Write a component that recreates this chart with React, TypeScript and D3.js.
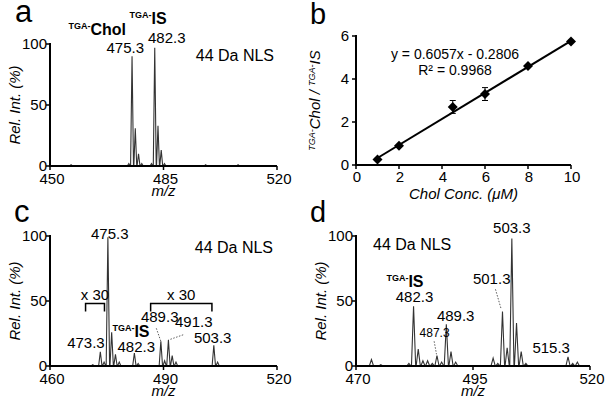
import React from "react";
import * as d3 from "d3";

// ---------- DATA ----------
// Panel a peaks: [m/z, rel. intensity %]
const peaksA: [number, number][] = [
  [456.5, 1], [474.3, 2], [475.3, 90], [476.3, 31], [477.3, 10], [478.3, 2],
  [481.3, 2], [482.3, 97], [483.3, 33], [484.3, 13], [485.3, 2],
  [498.0, 1], [508.0, 1],
];
// Panel c peaks
const peaksC: [number, number][] = [
  [471.3, 1], [473.3, 11], [474.3, 3], [475.3, 99], [476.3, 26], [477.3, 9], [478.3, 3],
  [482.3, 10], [483.3, 2], [489.3, 19], [490.3, 4], [491.3, 20], [492.3, 8], [493.3, 3],
  [503.3, 16], [504.3, 3],
];
// Panel d peaks
const peaksD: [number, number][] = [
  [473.3, 5], [475.3, 1], [481.3, 2], [482.3, 46], [483.3, 13], [484.3, 4], [485.3, 4], [486.3, 2],
  [487.3, 8], [488.3, 3], [489.3, 32], [490.3, 11], [491.3, 3],
  [499.3, 6], [500.3, 2], [501.3, 42], [502.3, 14], [503.3, 98], [504.3, 33], [505.3, 11], [506.3, 2],
  [515.3, 7], [516.3, 2], [517.3, 3],
];
// Panel b calibration
const concB = [1, 2, 4.5, 6, 8, 10];
const ratioB = [0.26, 0.9, 2.7, 3.3, 4.6, 5.75];
const errB = [0.05, 0.05, 0.3, 0.3, 0.05, 0.05];
const slopeB = 0.6057;
const interceptB = -0.2806;
const xTicksB = [0, 2, 4, 6, 8, 10];
const yTicksB = [0, 2, 4, 6];
const yTicksSpec = [0, 50, 100];
const xTicksA = [450, 485, 520];
const xTicksC = [460, 490, 520];
const xTicksD = [470, 495, 520];

const FONT = "'Liberation Sans', Arial, Helvetica, sans-serif";
const PEAK_HALF_WIDTH = 0.45;

function spectrumPath(peaks: [number, number][], x: d3.ScaleLinear<number, number>, y: d3.ScaleLinear<number, number>) {
  const [d0, d1] = x.domain();
  const pts: [number, number][] = [[d0, 0]];
  [...peaks].sort((a, b) => a[0] - b[0]).forEach(([m, h]) => {
    pts.push([m - PEAK_HALF_WIDTH, 0], [m, h], [m + PEAK_HALF_WIDTH, 0]);
  });
  pts.push([d1, 0]);
  const line = d3.line<[number, number]>().x((d) => x(d[0])).y((d) => y(d[1]));
  return line(pts) || "";
}

function SpecAxes({ x, y, xticks }: { x: d3.ScaleLinear<number, number>; y: d3.ScaleLinear<number, number>; xticks: number[] }) {
  const [r0, r1] = x.range();
  const y0 = y(0);
  const yTop = y(100);
  return (
    <g>
      <line x1={r0} x2={r0} y1={yTop - 1} y2={y0 + 1} stroke="#000" strokeWidth={2} />
      <line x1={r0 - 1} x2={r1} y1={y0} y2={y0} stroke="#000" strokeWidth={2} />
      {yTicksSpec.map((t) => (
        <g key={"y" + t}>
          <line x1={r0 - 4} x2={r0} y1={y(t)} y2={y(t)} stroke="#000" strokeWidth={1.5} />
          <text x={r0 - 3} y={y(t) + 5} textAnchor="end" fontSize={15}>{t}</text>
        </g>
      ))}
      {xticks.map((t) => (
        <g key={"x" + t}>
          <line x1={x(t)} x2={x(t)} y1={y0} y2={y0 + 4} stroke="#000" strokeWidth={1.5} />
          <text x={x(t) + 2} y={y0 + 18} textAnchor="middle" fontSize={15}>{t}</text>
        </g>
      ))}
      <text x={(r0 + r1) / 2} y={y0 + 30} textAnchor="middle" fontSize={15} fontStyle="italic">m/z</text>
      <text transform={`translate(${r0 - 30},${(y0 + yTop) / 2}) rotate(-90)`} textAnchor="middle" fontSize={15} fontStyle="italic">Rel. Int. (%)</text>
    </g>
  );
}

export default function App() {
  // Panel a
  const xA = d3.scaleLinear().domain([450, 520]).range([50, 277]);
  const yA = d3.scaleLinear().domain([0, 100]).range([166, 44]);
  // Panel c
  const xC = d3.scaleLinear().domain([460, 520]).range([50, 277]);
  const yC = d3.scaleLinear().domain([0, 100]).range([366, 236]);
  // Panel d
  const xD = d3.scaleLinear().domain([470, 520]).range([356, 590]);
  const yD = d3.scaleLinear().domain([0, 100]).range([366, 236]);
  // Panel b
  const xB = d3.scaleLinear().domain([0, 10]).range([356, 571]);
  const yB = d3.scaleLinear().domain([0, 6]).range([165, 36]);

  const fitX = [concB[0], concB[concB.length - 1]];
  const diamond = (cx: number, cy: number, r: number) => `M${cx},${cy - r}L${cx + r},${cy}L${cx},${cy + r}L${cx - r},${cy}Z`;

  const sub = (label: string, main: string, x: number, y: number, anchor: "start" | "middle" = "start") => (
    <text x={x} y={y} fontWeight="bold" textAnchor={anchor}>
      <tspan fontSize={9} dy={-6}>{label}</tspan>
      <tspan fontSize={16} dy={6}>{main}</tspan>
    </text>
  );

  return (
    <svg width={607} height={406} style={{ position: "absolute", left: 0, top: 0, background: "#fff", fontFamily: FONT }}>
      <rect width={607} height={406} fill="#fff" />
      {/* panel letters */}
      <text x={15} y={22} fontSize={31}>a</text>
      <text x={310} y={24} fontSize={29}>b</text>
      <text x={14} y={222} fontSize={31}>c</text>
      <text x={310} y={222} fontSize={29}>d</text>

      {/* ---------- Panel a ---------- */}
      <path d={spectrumPath(peaksA, xA, yA)} fill="none" stroke="#333" strokeWidth={1.1} />
      <SpecAxes x={xA} y={yA} xticks={xTicksA} />
      <text x={274} y={61} textAnchor="end" fontSize={16}>44 Da NLS</text>
      {sub("TGA-", "Chol", xA(455.7), yA(107))}
      {sub("TGA-", "IS", xA(474.5), yA(116))}
      <text x={xA(473.2)} y={yA(93)} textAnchor="middle" fontSize={15}>475.3</text>
      <text x={xA(486)} y={yA(101)} textAnchor="middle" fontSize={15}>482.3</text>

      {/* ---------- Panel b ---------- */}
      <line x1={xB(0)} x2={xB(0)} y1={yB(6) - 1} y2={yB(0) + 1} stroke="#000" strokeWidth={2} />
      <line x1={xB(0) - 1} x2={xB(10)} y1={yB(0)} y2={yB(0)} stroke="#000" strokeWidth={2} />
      {yTicksB.map((t) => (
        <g key={"by" + t}>
          <line x1={xB(0) - 4} x2={xB(0)} y1={yB(t)} y2={yB(t)} stroke="#000" strokeWidth={1.5} />
          <text x={xB(0) - 7} y={yB(t) + 5} textAnchor="end" fontSize={15}>{t}</text>
        </g>
      ))}
      {xTicksB.map((t) => (
        <g key={"bx" + t}>
          <line x1={xB(t)} x2={xB(t)} y1={yB(0)} y2={yB(0) + 4} stroke="#000" strokeWidth={1.5} />
          <text x={xB(t) + 1} y={yB(0) + 17} textAnchor="middle" fontSize={15}>{t}</text>
        </g>
      ))}
      <line x1={xB(fitX[0])} y1={yB(slopeB * fitX[0] + interceptB)} x2={xB(fitX[1])} y2={yB(slopeB * fitX[1] + interceptB)} stroke="#000" strokeWidth={2} />
      {concB.map((c, i) => (
        <g key={"pt" + i}>
          <line x1={xB(c)} x2={xB(c)} y1={yB(ratioB[i] - errB[i])} y2={yB(ratioB[i] + errB[i])} stroke="#000" strokeWidth={1} />
          <line x1={xB(c) - 3} x2={xB(c) + 3} y1={yB(ratioB[i] + errB[i])} y2={yB(ratioB[i] + errB[i])} stroke="#000" strokeWidth={1} />
          <line x1={xB(c) - 3} x2={xB(c) + 3} y1={yB(ratioB[i] - errB[i])} y2={yB(ratioB[i] - errB[i])} stroke="#000" strokeWidth={1} />
          <path d={diamond(xB(c), yB(ratioB[i]), 5)} fill="#000" />
        </g>
      ))}
      <text x={455} y={59} textAnchor="middle" fontSize={14}>y = 0.6057x - 0.2806</text>
      <text x={455} y={75} textAnchor="middle" fontSize={14}>R² = 0.9968</text>
      <text x={(xB(0) + xB(10)) / 2} y={199} textAnchor="middle" fontSize={15} fontStyle="italic">Chol Conc. (μM)</text>
      <text transform={`translate(${320},${(yB(0) + yB(6)) / 2}) rotate(-90)`} textAnchor="middle" fontStyle="italic">
        <tspan fontSize={9} dy={-5}>TGA-</tspan>
        <tspan fontSize={15} dy={5}>Chol / </tspan>
        <tspan fontSize={9} dy={-5}>TGA-</tspan>
        <tspan fontSize={15} dy={5}>IS</tspan>
      </text>

      {/* ---------- Panel c ---------- */}
      <path d={spectrumPath(peaksC, xC, yC)} fill="none" stroke="#333" strokeWidth={1.1} />
      <SpecAxes x={xC} y={yC} xticks={xTicksC} />
      <text x={273} y={253} textAnchor="end" fontSize={16}>44 Da NLS</text>
      <text x={xC(475.8)} y={yC(98)} textAnchor="middle" fontSize={15}>475.3</text>
      <text x={xC(469.5)} y={yC(14)} textAnchor="middle" fontSize={15}>473.3</text>
      {sub("TGA-", "IS", xC(476.5), yC(22))}
      <text x={xC(482.8)} y={yC(11)} textAnchor="middle" fontSize={15}>482.3</text>
      <text x={xC(489)} y={yC(34)} textAnchor="middle" fontSize={15}>489.3</text>
      <text x={xC(498)} y={yC(30)} textAnchor="middle" fontSize={15}>491.3</text>
      <text x={xC(503)} y={yC(18)} textAnchor="middle" fontSize={15}>503.3</text>
      <line x1={xC(488.1)} y1={yC(29)} x2={xC(489.3)} y2={yC(19)} stroke="#333" strokeWidth={0.8} strokeDasharray="1.5,1.5" />
      <line x1={xC(495.2)} y1={yC(24)} x2={xC(491.3)} y2={yC(20)} stroke="#333" strokeWidth={0.8} strokeDasharray="1.5,1.5" />
      {/* x30 brackets */}
      {[[469.4, 474.4], [486.6, 502.8]].map(([a, b], i) => (
        <g key={"br" + i}>
          <path d={`M${xC(a)},${yC(42)}V${yC(48)}H${xC(b)}V${yC(42)}`} fill="none" stroke="#000" strokeWidth={1.5} />
          <text x={(xC(a) + xC(b)) / 2} y={yC(51)} textAnchor="middle" fontSize={15}>x 30</text>
        </g>
      ))}

      {/* ---------- Panel d ---------- */}
      <path d={spectrumPath(peaksD, xD, yD)} fill="none" stroke="#333" strokeWidth={1.1} />
      <SpecAxes x={xD} y={yD} xticks={xTicksD} />
      <text x={373} y={250} fontSize={16}>44 Da NLS</text>
      <text x={xD(503.3)} y={yD(102)} textAnchor="middle" fontSize={15}>503.3</text>
      <text x={xD(499)} y={yD(63)} textAnchor="middle" fontSize={15}>501.3</text>
      <line x1={xD(499.8)} y1={yD(59)} x2={xD(501)} y2={yD(44)} stroke="#333" strokeWidth={0.8} strokeDasharray="1.5,1.5" />
      {sub("TGA-", "IS", xD(476.5), yD(61))}
      <text x={xD(482.5)} y={yD(49)} textAnchor="middle" fontSize={15}>482.3</text>
      <text x={xD(491.3)} y={yD(35)} textAnchor="middle" fontSize={15}>489.3</text>
      <text x={xD(486.8)} y={yD(22)} textAnchor="middle" fontSize={12}>487.3</text>
      <line x1={xD(486.7)} y1={yD(19)} x2={xD(487.2)} y2={yD(9)} stroke="#333" strokeWidth={0.8} strokeDasharray="1.5,1.5" />
      <text x={xD(511.7)} y={yD(10)} textAnchor="middle" fontSize={15}>515.3</text>
    </svg>
  );
}
